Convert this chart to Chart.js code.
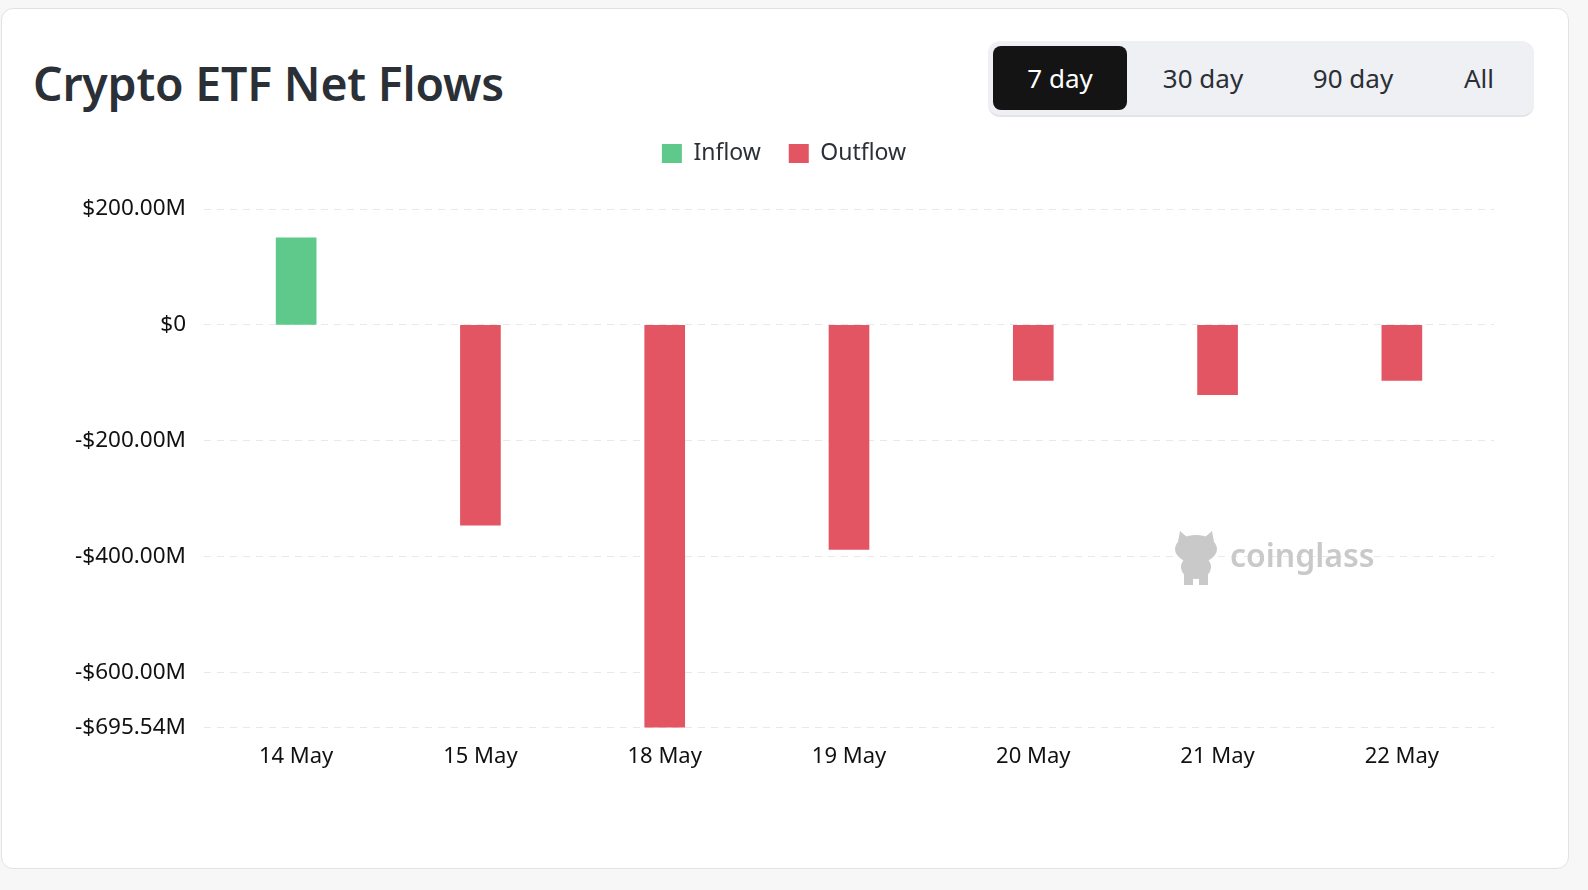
<!DOCTYPE html>
<html>
<head>
<meta charset="utf-8">
<script src="https://cdn.jsdelivr.net/npm/chart.js@4.4.1/dist/chart.umd.min.js"></script>
<style>
    html, body { margin: 0; padding: 0; }
    body { width: 1588px; height: 890px; background: #f7f7f7; position: relative; overflow: hidden; font-family: "Noto Sans", sans-serif; }
    .card { position: absolute; left: 1px; top: 8px; width: 1566px; height: 859px; background: #fff; border: 1px solid #e2e2e2; border-radius: 12px; }
    .title { position: absolute; left: 33px; top: 51px; margin: 0; font-size: 46.4px; font-weight: 600; color: #2b2f36; letter-spacing: -0.2px; }
    .range { position: absolute; left: 988px; top: 41px; width: 546px; height: 74px; background: #eff0f4; border-radius: 12px; border-bottom: 2px solid #e3e4e8; }
    .range span { position: absolute; top: 0; width: 140px; height: 74px; line-height: 74px; text-align: center; font-size: 26px; color: #2b2f36; }
    .range .active { left: 5px !important; top: 5px; width: 134px; height: 64px; line-height: 64px; background: #141414; color: #fff; border-radius: 8px; }
    #chartBox { position: absolute; left: 0; top: 114px; width: 1588px; height: 706px; }
</style>
</head>
<body>
<div class="card"></div>
<h1 class="title">Crypto ETF Net Flows</h1>
<div class="range">
    <span class="active">7 day</span>
    <span style="left:145px">30 day</span>
    <span style="left:295px">90 day</span>
    <span style="left:421px">All</span>
</div>
<div id="chartBox"><canvas id="flowChart"></canvas></div>

<script>
// ==================== DATA ====================
const dayLabels = ['14 May', '15 May', '18 May', '19 May', '20 May', '21 May', '22 May'];
const inflowValues = [150.3, null, null, null, null, null, null];
const outflowValues = [null, -346, -695.54, -388, -96, -120.6, -96];
const yTickValues = [200, 0, -200, -400, -600, -695.54];

const INFLOW_COLOR = '#5ec98a';
const OUTFLOW_COLOR = '#e35562';

function formatMoney(v) {
    if (v === 0) return '$0';
    return (v < 0 ? '-' : '') + '$' + Math.abs(v).toFixed(2) + 'M';
}

// extra room under the legend
const legendGap = {
    id: 'legendGap',
    beforeInit(chart) {
        const fit = chart.legend.fit;
        chart.legend.fit = function() {
            fit.bind(chart.legend)();
            this.height += 34;
        };
    }
};

// coinglass watermark, drawn over the grid but under the bars
const watermark = {
    id: 'watermark',
    beforeDatasetsDraw(chart) {
        const { ctx, chartArea } = chart;
        const x = chartArea.right - 264;
        const y = chartArea.top + 351;
        ctx.save();
        ctx.fillStyle = '#c9c9c9';
        // little cow icon
        ctx.beginPath();
        ctx.ellipse(x - 34, y - 11, 21, 14, 0, 0, Math.PI * 2);
        ctx.fill();
        ctx.beginPath();
        ctx.ellipse(x - 34, y + 7, 15, 12, 0, 0, Math.PI * 2);
        ctx.fill();
        ctx.fillRect(x - 46, y + 10, 9, 15);
        ctx.fillRect(x - 31, y + 10, 9, 15);
        ctx.beginPath();
        ctx.moveTo(x - 52, y - 18); ctx.lineTo(x - 50, y - 29); ctx.lineTo(x - 42, y - 22);
        ctx.moveTo(x - 26, y - 22); ctx.lineTo(x - 18, y - 29); ctx.lineTo(x - 16, y - 18);
        ctx.fill();
        ctx.font = '600 32px "Noto Sans", sans-serif';
        ctx.textBaseline = 'middle';
        ctx.fillText('coinglass', x, y - 2);
        ctx.restore();
    }
};

Chart.defaults.font.family = '"Noto Sans", sans-serif';

new Chart(document.getElementById('flowChart'), {
    type: 'bar',
    data: {
        labels: dayLabels,
        datasets: [
            { label: 'Inflow', data: inflowValues, backgroundColor: INFLOW_COLOR, barThickness: 40, grouped: false },
            { label: 'Outflow', data: outflowValues, backgroundColor: OUTFLOW_COLOR, barThickness: 40, grouped: false }
        ]
    },
    options: {
        responsive: true,
        maintainAspectRatio: false,
        animation: false,
        layout: { padding: { top: 0, right: 20, bottom: 42, left: 0 } },
        plugins: {
            tooltip: { enabled: false },
            legend: {
                position: 'top',
                labels: {
                    boxWidth: 20,
                    boxHeight: 19,
                    padding: 28,
                    color: '#2b2f36',
                    font: { size: 23 }
                }
            }
        },
        scales: {
            x: {
                grid: { display: false },
                border: { display: false },
                ticks: { color: '#111', padding: 8, font: { size: 22 } }
            },
            y: {
                min: -695.54,
                max: 200,
                afterBuildTicks: scale => { scale.ticks = yTickValues.map(v => ({ value: v })); },
                afterFit: scale => { scale.width = 204; },
                grid: { color: '#e8e8e8', drawTicks: false },
                border: { display: false, dash: [7, 6] },
                ticks: { color: '#111', padding: 18, font: { size: 22.5 }, callback: v => formatMoney(v) }
            },
            // empty right axis, keeps the plot off the right edge so the legend centres on the card
            yRight: {
                position: 'right',
                afterFit: scale => { scale.width = 74; },
                grid: { display: false },
                border: { display: false },
                ticks: { display: false }
            }
        }
    },
    plugins: [legendGap, watermark]
});
</script>
</body>
</html>
